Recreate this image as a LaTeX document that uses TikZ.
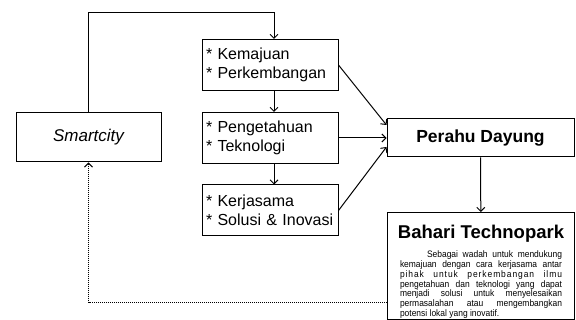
\documentclass[tikz,border=0pt]{standalone}
\usepackage{fontspec}
\setmainfont{Liberation Sans}
\usetikzlibrary{arrows.meta, positioning}

\tikzset{
  box/.style={draw, line width=1pt, inner sep=0pt},
  pointbox/.style={box, text width=128pt, inner xsep=4pt, minimum height=51pt, align=left, font=\fontsize{16}{19}\selectfont},
  arr/.style={line width=1pt, -{Straight Barb[length=4pt,width=8pt]}},
  dotarr/.style={arr, dash pattern=on 1pt off 1pt}
}

\begin{document}
\begin{tikzpicture}[x=1pt,y=-1pt]
        \useasboundingbox (0,0) rectangle (576,320);

        % left box
        \node[box, minimum width=145pt, minimum height=49pt, font=\fontsize{17}{20}\selectfont\itshape] (smart) at (88.5,137.5) {Smartcity};

        % middle column
        \node[pointbox] (kemaj) at (270,65) {* Kemajuan\\{}* Perkembangan};
        \node[pointbox] (penget) at (270,138) {* Pengetahuan\\{}* Teknologi};
        \node[pointbox] (kerja) at (270,210.5) {* Kerjasama\\{}* Solusi \& Inovasi};

        % right column
        \node[box, minimum width=187pt, minimum height=38pt, font=\fontsize{17.5}{20}\selectfont\bfseries] (perahu) at (480.5,138) {Perahu Dayung};
        \node[box, minimum width=187pt, minimum height=107pt, anchor=north west] (bahari) at (387,212) {};
        \node[below=9.5pt of bahari.north, font=\fontsize{18.5}{22}\selectfont\bfseries] (baharititle) {Bahari Technopark};
        \node[below=1.5pt of baharititle, text width=162pt, align=justify, font=\fontsize{9.4}{9.8}\selectfont\addfontfeatures{FakeStretch=0.9}] (baharidesc)
          {\hspace*{27pt}Sebagai wadah untuk mendukung\linebreak
           kemajuan dengan cara kerjasama antar\linebreak
           {\addfontfeatures{LetterSpace=10}pihak untuk perkembangan ilmu}\linebreak
           pengetahuan dan teknologi yang dapat\linebreak
           menjadi solusi untuk menyelesaikan\linebreak
           permasalahan atau mengembangkan\linebreak
           potensi lokal yang inovatif.};

        % connectors
        \coordinate (topbend) at (274,13);
        \coordinate (dotrow) at (0,303);
        \draw[arr] (smart.north) |- (topbend) -- (topbend |- kemaj.north);
        \draw[arr] (topbend |- kemaj.south) -- (topbend |- penget.north);
        \draw[arr] (topbend |- penget.south) -- (topbend |- kerja.north);
        \draw[arr] (kemaj.east) -- ([yshift=13pt]perahu.west);
        \draw[arr] (penget.east) -- (perahu.west);
        \draw[arr] (kerja.east) -- ([yshift=-9pt]perahu.west);
        \draw[arr] (perahu) -- (bahari);
        \draw[dotarr] (bahari.west |- dotrow) -| (smart.south);
\end{tikzpicture}
\end{document}
